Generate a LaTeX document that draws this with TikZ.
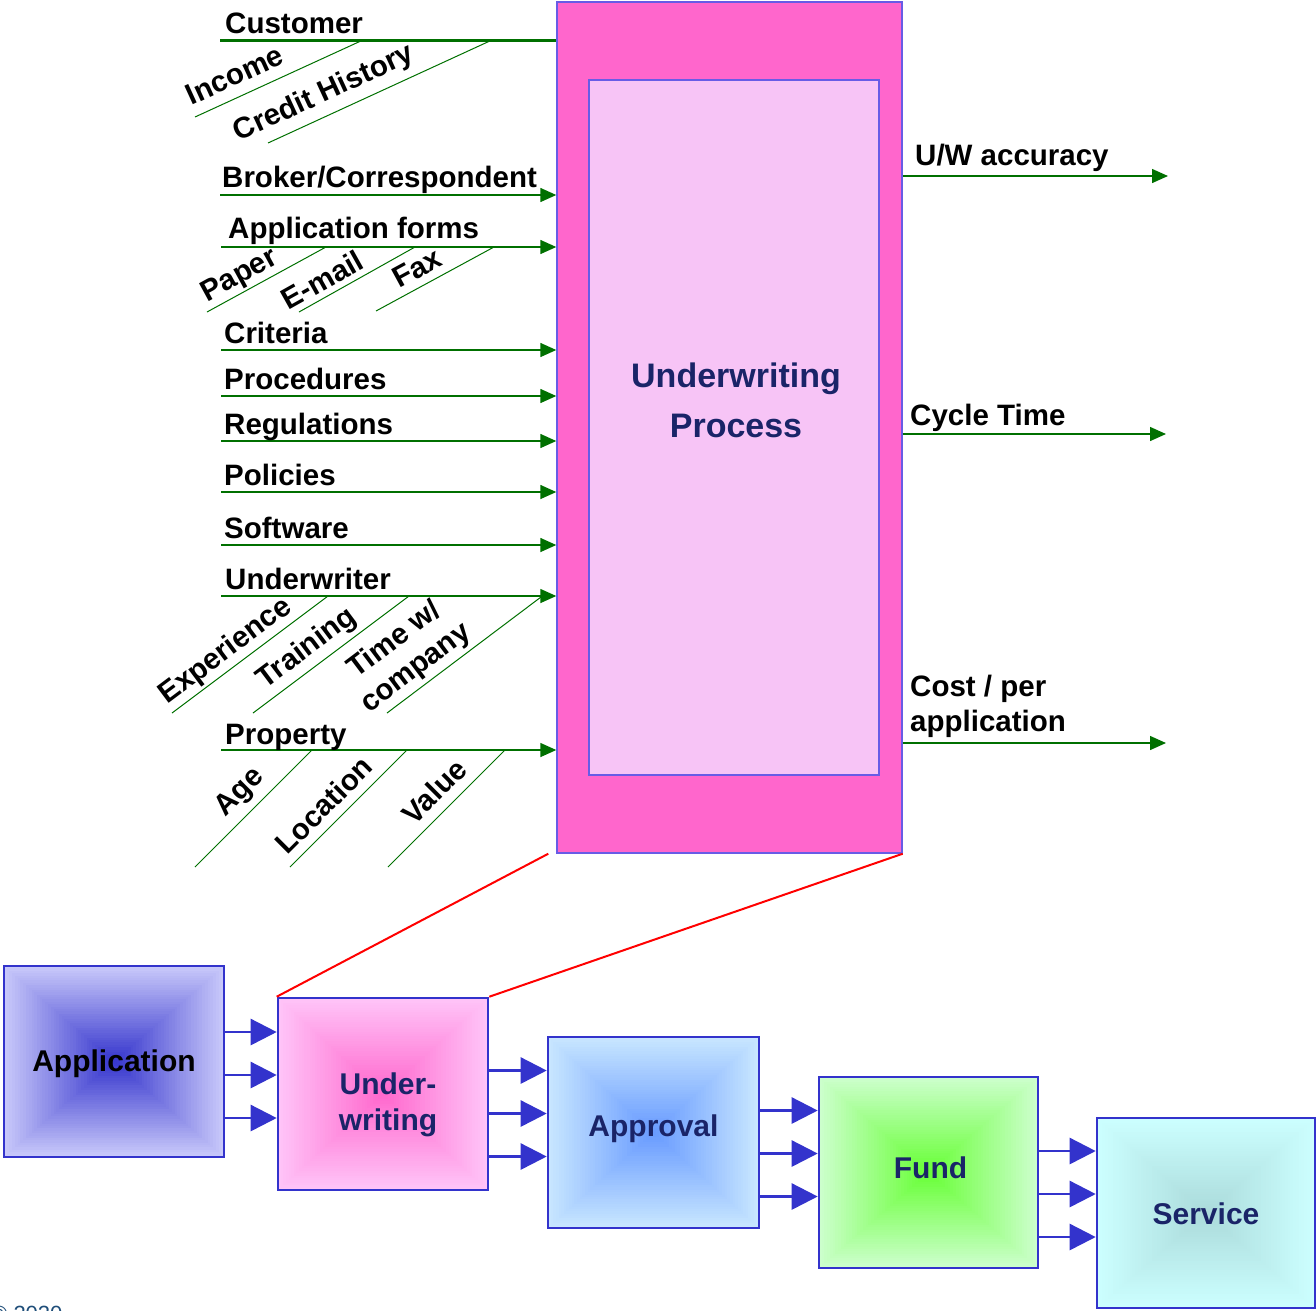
\documentclass[tikz,border=0pt]{standalone}
\usepackage{fontspec}
\setmainfont{Liberation Sans}
\usetikzlibrary{arrows.meta,calc}

\definecolor{feedgreen}{RGB}{0,112,0}
\definecolor{framepurple}{RGB}{104,92,230}
\definecolor{hotpink}{RGB}{255,102,204}
\definecolor{palepink}{RGB}{247,196,246}
\definecolor{navy}{RGB}{26,36,104}
\definecolor{flowblue}{RGB}{51,51,204}
\definecolor{copyblue}{RGB}{31,78,121}
% gradient colours of the flow boxes (centre / edge)
\definecolor{appC}{RGB}{51,51,204}   \definecolor{appE}{RGB}{200,200,250}
\definecolor{uwC}{RGB}{255,102,204}  \definecolor{uwE}{RGB}{255,196,248}
\definecolor{aprC}{RGB}{102,153,255} \definecolor{aprE}{RGB}{200,230,255}
\definecolor{fundC}{RGB}{102,255,51} \definecolor{fundE}{RGB}{204,255,204}
\definecolor{svcC}{RGB}{170,218,218} \definecolor{svcE}{RGB}{204,255,255}

\begin{document}
\begin{tikzpicture}[x=1pt,y=1pt,
  lbl/.style={font=\fontsize{29.5}{35}\selectfont\bfseries, inner sep=0pt},
  feed/.style={draw=feedgreen, line width=1.4pt, -{Triangle[length=16pt,width=14pt]}},
  sub/.style={draw=feedgreen, line width=1pt},
  sublbl/.style={lbl, sloped, anchor=south, text depth=0pt, inner ysep=#1, inner xsep=0pt},
  flow/.style={draw=flowblue, line width=2.6pt, -{Triangle[length=26pt,width=26pt]}},
  gradbox/.style 2 args={draw=flowblue, line width=2.6pt, rectangle, inner sep=0pt,
    path picture={
      \foreach \i in {0,...,40}{
        \pgfmathsetmacro\s{1-\i/40}
        \pgfmathtruncatemacro\p{100*\i/40}
        \fill[#1!\p!#2]
          ($(path picture bounding box.center)!\s!(path picture bounding box.south west)$)
          rectangle
          ($(path picture bounding box.center)!\s!(path picture bounding box.north east)$);
      }}},
  steplbl/.style={font=\fontsize{30}{36}\selectfont\bfseries, text=navy, align=center}
]
\useasboundingbox (0,0) rectangle (1316,-1310);

% ---------- the underwriting process box ----------
\node[draw=framepurple, line width=1.4pt, fill=hotpink, minimum width=345pt,
      minimum height=851pt, inner sep=0pt] (main) at (729.5,-427.5) {};
\node[draw=framepurple, line width=1.4pt, fill=palepink, minimum width=290pt,
      minimum height=695pt, inner sep=0pt] (inner) at (734,-427.5) {};
\node[font=\fontsize{34}{50}\selectfont\bfseries, text=navy, align=center] (title)
      at (736,-400) {Underwriting\\Process};

% ---------- inputs ----------
\coordinate (cust) at (220,-40);
\coordinate (brok) at (220,-195);
\coordinate (appf) at (221,-247);
\coordinate (crit) at (221,-350);
\coordinate (proc) at (221,-396);
\coordinate (regs) at (221,-441);
\coordinate (pols) at (221,-492);
\coordinate (soft) at (221,-545);
\coordinate (uwr)  at (221,-596);
\coordinate (prop) at (221,-750);

\draw[feedgreen, line width=3pt] (cust) -- (cust -| main.west);
\foreach \c in {brok,appf,crit,proc,regs,pols,soft,uwr,prop}
  \draw[feed] (\c) -- (\c -| main.west);

\node[lbl, anchor=base west] (tCust) at ([shift={(5,7)}]cust) {Customer};
\node[lbl, anchor=base west] (tBrok) at ([shift={(2,8)}]brok) {Broker/Correspondent};
\node[lbl, anchor=base west] (tAppf) at ([shift={(7,9)}]appf) {Application forms};
\node[lbl, anchor=base west] (tCrit) at ([shift={(3,7)}]crit) {Criteria};
\node[lbl, anchor=base west] (tProc) at ([shift={(3,7)}]proc) {Procedures};
\node[lbl, anchor=base west] (tRegs) at ([shift={(3,7)}]regs) {Regulations};
\node[lbl, anchor=base west] (tPols) at ([shift={(3,7)}]pols) {Policies};
\node[lbl, anchor=base west] (tSoft) at ([shift={(3,7)}]soft) {Software};
\node[lbl, anchor=base west] (tUwr)  at ([shift={(4,7)}]uwr)  {Underwriter};
\node[lbl, anchor=base west] (tProp) at ([shift={(4,6)}]prop) {Property};

% sub-factors feeding the input lines
\draw[sub] (195,-117) -- (363,-40) node[sublbl=11, pos=.29] {Income};
\draw[sub] (268,-143) -- (492,-40) node[sublbl=13, pos=.29] {Credit History};

\draw[sub] (207,-312) -- (326,-247) node[sublbl=8, pos=.34] {Paper};
\draw[sub] (299,-312) -- (415,-247) node[sublbl=6, pos=.27] {E-mail};
\draw[sub] (376,-311) -- (494,-247) node[sublbl=8, pos=.42] {Fax};

\draw[sub] (172,-713) -- (328,-596) node[sublbl=9, pos=.41] {Experience};
\draw[sub] (253,-713) -- (409,-596) node[sublbl=11, pos=.42] {Training};
\draw[sub] (387,-713) -- (541,-597) node[sublbl=10, pos=.26, align=center] {Time w/\\company};

\draw[sub] (195,-867) -- (312,-750) node[sublbl=13, pos=.51] {Age};
\draw[sub] (290,-867) -- (407,-750) node[sublbl=9, pos=.41] {Location};
\draw[sub] (388,-867) -- (505,-750) node[sublbl=10, pos=.52] {Value};

% ---------- outputs ----------
\coordinate (oAcc)  at (1168,-176);
\coordinate (oCyc)  at (1166,-434);
\coordinate (oCost) at (1166,-743);
\foreach \c in {oAcc,oCyc,oCost}
  \draw[feed] (\c -| main.east) -- (\c);
\node[lbl, anchor=base west] (tAcc) at (915,-165) {U/W accuracy};
\node[lbl, anchor=base west] (tCyc) at (910,-425) {Cycle Time};
\node[lbl, anchor=south west, align=left, text depth=0pt] (tCost) at (910,-732) {Cost / per\\application};

% ---------- process flow ----------
\node[gradbox={appC}{appE}, minimum width=220pt, minimum height=191pt] (app) at (114,-1061.5) {};
\node[gradbox={uwC}{uwE}, minimum width=210pt, minimum height=192pt] (uw) at (383,-1094) {};
\node[gradbox={aprC}{aprE}, minimum width=211pt, minimum height=191pt] (apr) at (653.5,-1132.5) {};
\node[gradbox={fundC}{fundE}, minimum width=219pt, minimum height=191pt] (fund) at (928.5,-1172.5) {};
\node[gradbox={svcC}{svcE}, minimum width=218pt, minimum height=190pt] (svc) at (1206,-1213) {};

\node[steplbl, text=black] at ([yshift=-2]app.center) {Application};
\node[steplbl] at ([shift={(5,-11)}]uw.center) {Under-\\writing};
\node[steplbl] at ([yshift=4]apr.center) {Approval};
\node[steplbl] at ([shift={(2,5)}]fund.center) {Fund};
\node[steplbl] at ([yshift=-1]svc.center) {Service};

% three hand-over arrows between consecutive steps
\foreach \a/\b in {app/uw, uw/apr, apr/fund, fund/svc}
  \foreach \dy in {62,19,-24}{
    \path ([yshift=\dy]\b.west) coordinate (tip);
    \draw[flow] (tip -| \a.east) -- (tip);
  }

% zoom lines from the detail box to its step
\draw[red, line width=2pt] ([xshift=-8]main.south west) -- (uw.north west);
\draw[red, line width=2pt] (main.south east) -- (uw.north east);

\node[anchor=base west, inner sep=0pt, text=copyblue, font=\fontsize{22}{26}\selectfont] (copy)
  at (-9,-1321) {\textcopyright\ 2020};
\end{tikzpicture}
\end{document}
